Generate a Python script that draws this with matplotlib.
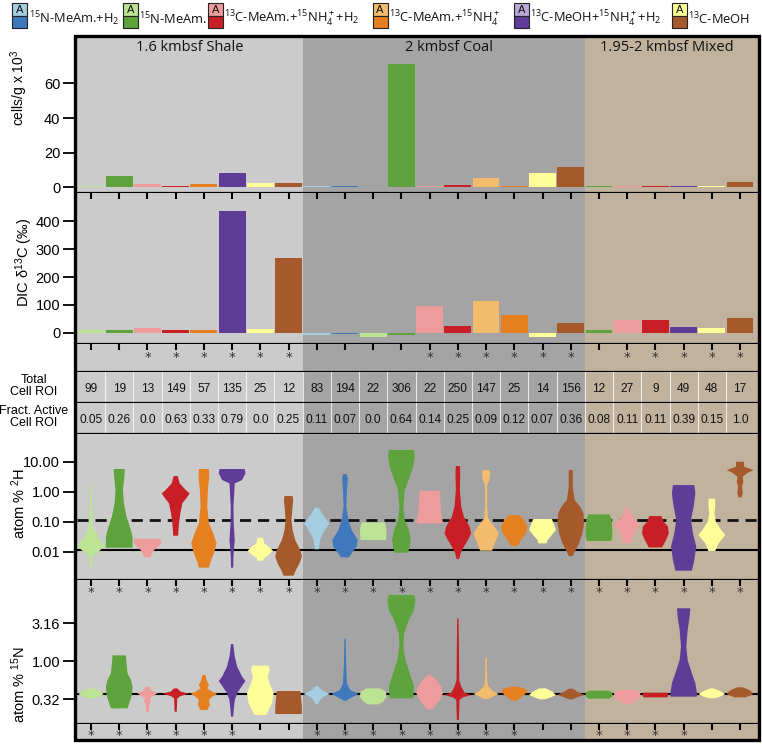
import numpy as np
import matplotlib
matplotlib.use('Agg')
import matplotlib.pyplot as plt
from matplotlib.patches import Rectangle
from matplotlib.ticker import FixedLocator, FuncFormatter, NullLocator

plt.rcParams['font.family'] = ['Liberation Sans', 'DejaVu Sans']
plt.rcParams['mathtext.default'] = 'regular'

# ---------------- data ----------------
regions = ['1.6 kmbsf Shale', '2 kmbsf Coal', '1.95-2 kmbsf Mixed']
region_ncols = [8, 10, 6]
region_colors = ['#cbcbcb', '#a4a4a4', '#c0b29c']

treat_labels = ['$^{15}$N-MeAm.+H$_2$', '$^{15}$N-MeAm.',
                '$^{13}$C-MeAm.+$^{15}$NH$_4^+$+H$_2$', '$^{13}$C-MeAm.+$^{15}$NH$_4^+$',
                '$^{13}$C-MeOH+$^{15}$NH$_4^+$+H$_2$', '$^{13}$C-MeOH']
treat_light = ['#a6cee3', '#bde495', '#ee9b9b', '#f3bc6c', '#b9a9d6', '#ffff99']
treat_dark = ['#3f78bd', '#5ea33c', '#c81e25', '#e67f20', '#5f3c98', '#a65a2c']

LB, DB, LG, DG, LR, DR, LO, DO, LP, DP, LY, BR = ['#a6cee3', '#3f78bd', '#bde495', '#5ea33c', '#ee9b9b', '#c81e25',
                                                  '#f3bc6c', '#e67f20', '#b9a9d6', '#5f3c98', '#ffff99', '#a65a2c']
col_colors = [LG, DG, LR, DR, DO, DP, LY, BR,
              LB, DB, LG, DG, LR, DR, LO, DO, LY, BR,
              DG, LR, DR, DP, LY, BR]

cells = [0.9, 6.5, 1.7, 0.8, 2.1, 8.1, 2.5, 2.5,
         0.9, 0.9, 0.4, 71, 0.9, 1.3, 5.6, 0.9, 8.3, 11.7,
         0.9, 0.9, 0.9, 0.9, 0.9, 3.3]
dic = [12, 11, 16, 12, 10, 436, 13, 269,
       -6, -4, -15, -6, 96, 26, 114, 63, -14, 34,
       12, 46, 45, 22, 16, 52]
total_roi = [99, 19, 13, 149, 57, 135, 25, 12,
             83, 194, 22, 306, 22, 250, 147, 25, 14, 156,
             12, 27, 9, 49, 48, 17]
fract_active = ['0.05', '0.26', '0.0', '0.63', '0.33', '0.79', '0.0', '0.25',
                '0.11', '0.07', '0.0', '0.64', '0.14', '0.25', '0.09', '0.12', '0.07', '0.36',
                '0.08', '0.11', '0.11', '0.39', '0.15', '1.0']
sig_dic = [0, 0, 1, 1, 1, 1, 1, 1, 0, 0, 0, 0, 1, 1, 1, 1, 1, 1, 0, 1, 1, 1, 1, 1]
sig_2h = [1, 1, 1, 1, 1, 1, 1, 1, 1, 1, 1, 1, 1, 1, 1, 1, 1, 1, 1, 1, 1, 1, 1, 1]
sig_15n = [1, 1, 1, 1, 1, 1, 0, 0, 1, 1, 1, 1, 1, 1, 1, 1, 0, 0, 1, 1, 1, 1, 0, 0]

# violin density profiles: log10(atom %) levels and relative density
h2_levels = [
    [-2.533, -2.167, -2.0, -1.811, -1.5, -1.167, -0.5, 0.3],
    [-1.867, -1.5, -1.167, -0.833, -0.389, 0.056, 0.5, 0.756],
    [-2.189, -2.111, -1.944, -1.811, -1.667, -1.567],
    [-1.467, -1.056, -0.722, -0.389, -0.167, -0.056, 0.056, 0.278, 0.522],
    [-2.533, -2.333, -2.056, -1.722, -1.389, -1.056, -0.5, 0.056, 0.5, 0.756],
    [-2.533, -2.167, -1.833, -1.611, -1.056, -0.5, 0.278, 0.389, 0.611, 0.756],
    [-2.3, -2.222, -2.111, -1.967, -1.833, -1.722, -1.533],
    [-2.8, -2.611, -2.389, -2.167, -1.944, -1.611, -1.278, -0.944, -0.5, -0.278, -0.144],
    [-1.922, -1.611, -1.389, -1.189, -1.056, -0.944, -0.722, -0.533],
    [-2.189, -2.056, -1.833, -1.611, -1.278, -0.944, -0.5, 0.056, 0.444, 0.589],
    [-1.611, -1.278, -1.022],
    [-2.033, -1.833, -1.611, -1.278, -0.944, -0.5, 0.056, 0.5, 0.833, 1.167, 1.389],
    [-1.056, -0.722, -0.278, 0.033],
    [-2.244, -2.056, -1.833, -1.611, -1.389, -1.167, -0.833, -0.5, 0.056, 0.611, 0.856],
    [-1.967, -1.833, -1.611, -1.389, -1.167, -0.889, -0.5, 0.222, 0.389, 0.611, 0.722],
    [-1.811, -1.611, -1.389, -1.167, -0.944, -0.778],
    [-1.722, -1.611, -1.444, -1.278, -1.111, -0.911],
    [-2.144, -2.0, -1.722, -1.389, -1.056, -0.722, -0.5, -0.278, 0.167, 0.722],
    [-1.644, -1.5, -1.278, -0.944, -0.756],
    [-1.722, -1.444, -1.222, -1.111, -0.944, -0.722, -0.5],
    [-1.856, -1.611, -1.389, -1.167, -1.0, -0.811],
    [-2.633, -2.278, -1.833, -1.389, -0.944, -0.5, -0.056, 0.222],
    [-1.978, -1.722, -1.444, -1.222, -1.0, -0.722, -0.5, -0.233],
    [-0.189, -0.056, 0.167, 0.333, 0.5, 0.611, 0.722, 0.833, 1.0],
]
h2_dens = [
    [0.05, 0.15, 0.55, 1.05, 0.5, 0.15, 0.08, 0.05],
    [1.0, 1.0, 0.8, 0.55, 0.35, 0.28, 0.38, 0.42],
    [0.25, 0.3, 0.5, 0.88, 1.05, 0.95],
    [0.18, 0.25, 0.35, 0.5, 0.88, 1.05, 0.75, 0.3, 0.15],
    [0.38, 0.5, 0.75, 0.95, 0.7, 0.38, 0.25, 0.3, 0.4, 0.38],
    [0.08, 0.1, 0.15, 0.2, 0.12, 0.1, 0.2, 0.75, 1.0, 0.95],
    [0.25, 0.25, 0.62, 0.95, 0.62, 0.3, 0.2],
    [0.38, 0.55, 0.82, 1.0, 0.88, 0.5, 0.3, 0.22, 0.3, 0.35, 0.3],
    [0.15, 0.25, 0.45, 0.75, 0.95, 0.75, 0.38, 0.15],
    [0.3, 0.5, 0.88, 0.95, 0.5, 0.25, 0.1, 0.15, 0.22, 0.12],
    [0.95, 1.0, 0.88],
    [0.5, 0.62, 0.7, 0.55, 0.25, 0.15, 0.25, 0.62, 0.88, 1.0, 0.95],
    [1.0, 0.88, 0.8, 0.75],
    [0.1, 0.2, 0.45, 0.75, 1.0, 0.88, 0.45, 0.25, 0.15, 0.18, 0.15],
    [0.45, 0.55, 0.75, 0.95, 0.62, 0.15, 0.08, 0.08, 0.25, 0.3, 0.25],
    [0.25, 0.5, 0.88, 1.0, 0.75, 0.38],
    [0.3, 0.38, 0.7, 1.0, 0.88, 0.7],
    [0.15, 0.3, 0.62, 0.88, 1.0, 0.95, 0.7, 0.3, 0.15, 0.15],
    [0.92, 1.0, 1.0, 0.95, 0.8],
    [0.3, 0.45, 0.7, 1.0, 0.62, 0.25, 0.05],
    [0.5, 0.8, 1.0, 0.95, 0.62, 0.45],
    [0.62, 0.8, 0.95, 0.7, 0.55, 0.75, 0.88, 0.8],
    [0.25, 0.5, 1.0, 0.62, 0.3, 0.2, 0.25, 0.25],
    [0.12, 0.2, 0.15, 0.25, 0.2, 0.5, 1.0, 0.3, 0.3],
]
n15_levels = [
    [-0.491, -0.469, -0.434, -0.394, -0.359],
    [-0.624, -0.557, -0.447, -0.337, -0.248, -0.160, -0.028, 0.078],
    [-0.668, -0.579, -0.535, -0.491, -0.451, -0.425, -0.381, -0.337],
    [-0.668, -0.491, -0.460, -0.429, -0.403, -0.359],
    [-0.646, -0.579, -0.513, -0.469, -0.434, -0.403, -0.359, -0.315, -0.248, -0.182],
    [-0.734, -0.646, -0.513, -0.425, -0.337, -0.262, -0.204, -0.072, 0.061, 0.228],
    [-0.712, -0.646, -0.557, -0.425, -0.292, -0.204, -0.116, -0.058],
    [-0.699, -0.602, -0.513, -0.394],
    [-0.566, -0.513, -0.469, -0.434, -0.381, -0.328],
    [-0.522, -0.504, -0.469, -0.434, -0.381, -0.292, -0.028, 0.299],
    [-0.571, -0.535, -0.469, -0.403, -0.359],
    [-0.491, -0.337, -0.160, 0.017, 0.193, 0.370, 0.546, 0.679, 0.811, 0.877],
    [-0.637, -0.579, -0.513, -0.425, -0.337, -0.248, -0.182],
    [-0.778, -0.513, -0.478, -0.447, -0.416, -0.337, -0.248, 0.193, 0.568],
    [-0.5, -0.469, -0.434, -0.394, -0.328, -0.248, 0.047],
    [-0.522, -0.491, -0.447, -0.390, -0.359, -0.337],
    [-0.504, -0.478, -0.447, -0.403, -0.359],
    [-0.504, -0.478, -0.447, -0.403, -0.363],
    [-0.496, -0.469, -0.416, -0.390],
    [-0.566, -0.535, -0.491, -0.425, -0.381],
    [-0.478, -0.447, -0.416],
    [-0.469, -0.425, -0.292, -0.160, 0.017, 0.193, 0.414, 0.591, 0.701],
    [-0.491, -0.469, -0.434, -0.394, -0.359],
    [-0.478, -0.456, -0.425, -0.381, -0.345],
]
n15_dens = [
    [0.2, 0.62, 0.95, 0.62, 0.2],
    [0.62, 0.75, 0.95, 1.0, 0.88, 0.62, 0.55, 0.5],
    [0.12, 0.12, 0.25, 0.2, 0.5, 0.75, 0.25, 0.15],
    [0.08, 0.12, 0.38, 1.0, 0.38, 0.12],
    [0.25, 0.45, 0.38, 0.62, 1.0, 0.62, 0.25, 0.38, 0.2, 0.12],
    [0.08, 0.12, 0.2, 0.38, 0.7, 1.0, 0.75, 0.38, 0.2, 0.08],
    [0.45, 0.62, 0.88, 1.0, 0.7, 0.55, 0.7, 0.62],
    [1.0, 1.0, 0.95, 0.88],
    [0.1, 0.25, 0.5, 1.0, 0.38, 0.08],
    [0.12, 0.25, 0.62, 1.0, 0.38, 0.15, 0.08, 0.05],
    [0.38, 0.75, 1.0, 0.95, 0.5],
    [0.88, 0.95, 0.62, 0.3, 0.15, 0.2, 0.55, 0.95, 1.05, 0.95],
    [0.2, 0.45, 0.75, 1.0, 0.88, 0.5, 0.12],
    [0.08, 0.12, 0.38, 1.0, 0.5, 0.25, 0.1, 0.08, 0.05],
    [0.2, 0.5, 0.95, 0.5, 0.15, 0.08, 0.05],
    [0.2, 0.38, 0.75, 1.0, 0.75, 0.2],
    [0.2, 0.62, 1.0, 0.75, 0.25],
    [0.12, 0.5, 1.0, 0.5, 0.12],
    [0.75, 1.0, 1.0, 0.75],
    [0.2, 0.5, 0.88, 1.0, 0.62],
    [0.88, 1.0, 0.88],
    [1.0, 1.0, 0.88, 0.62, 0.3, 0.2, 0.3, 0.45, 0.5],
    [0.2, 0.62, 1.0, 0.62, 0.12],
    [0.38, 0.75, 1.0, 0.7, 0.2],
]

cells_ticks = [0, 20, 40, 60]
dic_ticks = [0, 100, 200, 300, 400]
h2_ticks = [0.01, 0.10, 1.00, 10.00]
n15_ticks = [0.316, 1.00, 3.16]
h2_natural = 0.0115
h2_tenfold = 0.115
n15_natural = 0.366

# ---------------- layout ----------------
W, H = 762, 744
fig = plt.figure(figsize=(W / 100, H / 100), dpi=100)
X0, X1, COLW = 76.9, 757.5, 28.22
XMAX = -0.5 + (X1 - X0) / COLW
x = np.arange(len(col_colors))
SEP_LW = 1.6


def px_axes(y0, y1):
    return fig.add_axes([X0 / W, 1 - y1 / H, (X1 - X0) / W, (y1 - y0) / H])


def band(y0, y1):
    ax = px_axes(y0, y1)
    b = np.cumsum([0] + region_ncols) - 0.5
    for i, c in enumerate(region_colors):
        right = b[i + 1] if i < len(region_colors) - 1 else XMAX + 1
        ax.axvspan(b[i], right, color=c, lw=0, zorder=0)
    ax.set_xlim(-0.5, XMAX)
    for s in ['top', 'left', 'right']:
        ax.spines[s].set_visible(False)
    ax.spines['bottom'].set_linewidth(SEP_LW)
    ax.tick_params(axis='x', bottom=False, top=False, labelbottom=False, labeltop=False)
    ax.tick_params(axis='y', left=False, labelleft=False)
    ax.set_xticks(x)
    return ax


def yaxis_style(ax):
    ax.tick_params(axis='y', left=True, labelleft=True, direction='out', length=10,
                   width=1.3, labelsize=10.5, pad=2)
    ax.yaxis.set_minor_locator(NullLocator())


def top_ticks(ax):
    ax.tick_params(axis='x', top=True, direction='in', length=4, width=1.5)


def stars(ax, sig, yfrac):
    for xi, s in zip(x, sig):
        if s:
            ax.text(xi, yfrac, '*', transform=ax.get_xaxis_transform(), ha='center', va='center',
                    fontsize=9.5, family='DejaVu Sans', color='#333333', zorder=5)


def violins(ax, levels, dens):
    stats, widths = [], []
    for lv, dn in zip(levels, dens):
        coords = 10 ** np.asarray(lv, float)
        vals = np.asarray(dn, float)
        stats.append(dict(coords=coords, vals=vals, mean=coords.mean(), median=np.median(coords),
                          min=coords.min(), max=coords.max()))
        widths.append(0.945 * vals.max())
    parts = ax.violin(stats, positions=x, widths=widths, showextrema=False)
    for body, c in zip(parts['bodies'], col_colors):
        body.set_facecolor(c)
        body.set_edgecolor('none')
        body.set_alpha(1)
        body.set_zorder(3)


# panel 1: cells
ax1 = band(37, 193)
ax1.bar(x, cells, width=0.95, color=col_colors, zorder=2)
ax1.set_ylim(-3.2, 86.7)
ax1.set_yticks(cells_ticks)
yaxis_style(ax1)
centers = [(-0.5 + 7.5) / 2, (7.5 + 17.5) / 2 + 0.2, (17.5 + 23.5) / 2 - 0.1]
for r, cx in zip(regions, centers):
    ax1.text(cx, 80.5, r, ha='center', va='center', fontsize=10.5, family='Open Sans', color='#111111')

# panel 2: DIC
ax2 = band(193, 344)
ax2.bar(x, dic, width=0.95, color=col_colors, zorder=2)
ax2.set_ylim(-40, 502)
ax2.set_yticks(dic_ticks)
yaxis_style(ax2)
top_ticks(ax2)

# asterisk strip
ax3 = band(344, 372)
ax3.set_ylim(0, 1)
top_ticks(ax3)
stars(ax3, sig_dic, 0.5)

# table rows
ax4 = band(372, 403)
ax5 = band(403, 434)
for ax, vals in [(ax4, total_roi), (ax5, fract_active)]:
    ax.set_ylim(0, 1)
    for xi, v in zip(x, vals):
        ax.text(xi, 0.45, str(v), ha='center', va='center', fontsize=8.6, color='#111111')
    for k in range(len(x) - 1):
        ax.axvline(k + 0.5, color='white', lw=0.8, alpha=0.75, zorder=1)

# 2H panel
ax6 = band(434, 580)
ax6.set_yscale('log')
ax6.axhline(h2_natural, color='k', lw=1.5, zorder=2)
ax6.axhline(h2_tenfold, color='#111111', lw=2, ls=(0, (4, 2.5)), zorder=2)
violins(ax6, h2_levels, h2_dens)
ax6.set_ylim(0.00114, 83.8)
ax6.yaxis.set_major_locator(FixedLocator(h2_ticks))
ax6.yaxis.set_major_formatter(FuncFormatter(lambda v, p: f'{v:.2f}'))
yaxis_style(ax6)
ax6.set_xlim(-0.5, XMAX)

# 15N panel
ax7 = band(580, 724)
ax7.set_yscale('log')
ax7.axhline(n15_natural, color='k', lw=1.5, zorder=2)
violins(ax7, n15_levels, n15_dens)
ax7.set_ylim(0.1476, 11.9)
ax7.yaxis.set_major_locator(FixedLocator(n15_ticks))
ax7.yaxis.set_major_formatter(FuncFormatter(lambda v, p: f'{v:.2f}'))
yaxis_style(ax7)
ax7.set_xlim(-0.5, XMAX)
top_ticks(ax7)
stars(ax7, sig_2h, 0.91)

# bottom strip
ax8 = band(724, 739)
ax8.set_ylim(0, 1)
ax8.spines['bottom'].set_visible(False)
top_ticks(ax8)
stars(ax8, sig_15n, 0.2)

# y labels
fig.text(19 / W, 1 - 88 / H, 'cells/g x 10$^3$', rotation=90, ha='center', va='center', fontsize=10)
fig.text(24 / W, 1 - 262 / H, 'DIC δ$^{13}$C (‰)', rotation=90, ha='center', va='center', fontsize=10.5)
fig.text(19 / W, 1 - 503 / H, 'atom % $^2$H', rotation=90, ha='center', va='center', fontsize=10.5)
fig.text(19 / W, 1 - 685 / H, 'atom % $^{15}$N', rotation=90, ha='center', va='center', fontsize=10.5)

# row labels
fig.text(34 / W, 1 - 386 / H, 'Total\nCell ROI', ha='center', va='center', fontsize=9, linespacing=1.05)
fig.text(34 / W, 1 - 417 / H, 'Fract. Active\nCell ROI', ha='center', va='center', fontsize=9, linespacing=1.05)

# outer frame
fig.add_artist(Rectangle((75.3 / W, 1 - 739.5 / H), (759 - 75.3) / W, (739.5 - 35.7) / H,
                         transform=fig.transFigure, fill=False, lw=2.4, ec='k', zorder=10))

# legend
box_x = [12.3, 122.7, 208.3, 372.5, 513.7, 672.0]
for bx, lab, cl, cd in zip(box_x, treat_labels, treat_light, treat_dark):
    fig.add_artist(Rectangle((bx / W, 1 - 15.8 / H), 15 / W, 12.5 / H, transform=fig.transFigure,
                             fc=cl, ec='#222222', lw=0.8))
    fig.add_artist(Rectangle((bx / W, 1 - 28.3 / H), 15 / W, 12.5 / H, transform=fig.transFigure,
                             fc=cd, ec='#222222', lw=0.8))
    fig.text((bx + 7.5) / W, 1 - 9.8 / H, 'A', ha='center', va='center', fontsize=8, color='#111111')
    fig.text((bx + 16.2) / W, 1 - 19 / H, lab, ha='left', va='center', fontsize=9.3,
             family='Open Sans', color='#111111')

fig.savefig('out.png', dpi=100)
